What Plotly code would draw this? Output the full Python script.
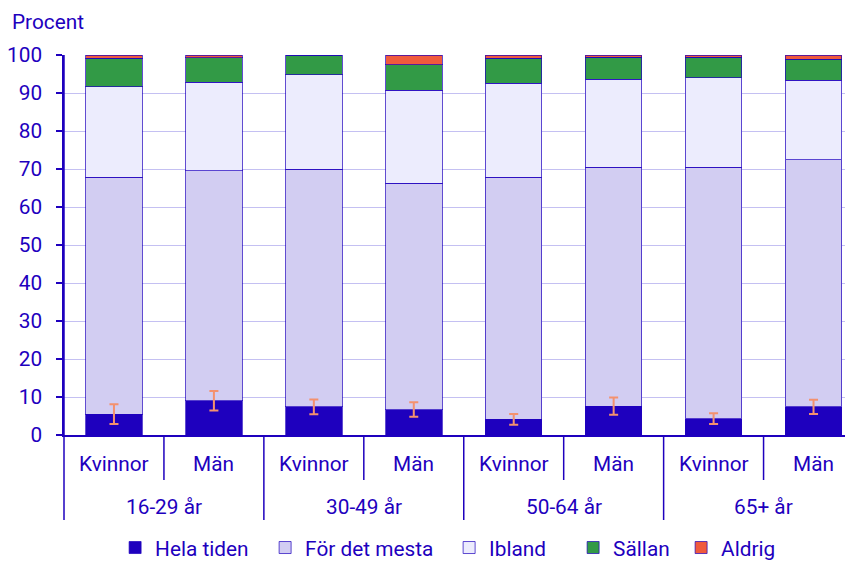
import plotly.graph_objects as go

# ---- data ----
sex_labels = ["Kvinnor", "Män", "Kvinnor", "Män", "Kvinnor", "Män", "Kvinnor", "Män"]
age_groups = ["16-29 år", "30-49 år", "50-64 år", "65+ år"]

hela_tiden = [5.5, 9.0, 7.4, 6.7, 4.1, 7.6, 4.3, 7.4]
hela_tiden_err = [2.6, 2.55, 1.95, 1.9, 1.4, 2.3, 1.4, 1.85]
for_det_mesta = [62.3, 60.5, 62.6, 59.5, 63.7, 62.8, 66.1, 65.1]
ibland = [23.9, 23.3, 24.8, 24.5, 24.8, 23.2, 23.6, 20.8]
sallan = [7.4, 6.5, 5.2, 6.7, 6.5, 5.8, 5.4, 5.6]
aldrig = [0.9, 0.7, 0.0, 2.6, 0.9, 0.6, 0.6, 1.1]

series_names = ["Hela tiden", "För det mesta", "Ibland", "Sällan", "Aldrig"]
series_values = [hela_tiden, for_det_mesta, ibland, sallan, aldrig]
series_colors = ["#1e00be", "#d2cdf2", "#ececfd", "#329a46", "#f05a3c"]
legend_widths = [105, 139, 79, 63, 60]

y_ticks = [0, 10, 20, 30, 40, 50, 60, 70, 80, 90, 100]

# ---- style ----
TXT = "#1e00be"
FONT = "Roboto"
FS = 20.8

x = list(range(len(sex_labels)))
fig = go.Figure()
for name, vals, col, lw in zip(series_names, series_values, series_colors, legend_widths):
    fig.add_trace(go.Bar(
        x=x, y=vals, name=name, width=0.565, legendwidth=lw,
        marker=dict(color=col, line=dict(color="rgba(30,0,190,0.7)", width=1)),
        hoverinfo="y+name"))

# error bars for "Hela tiden", drawn on top of the stack
fig.add_trace(go.Scatter(
    x=x, y=hela_tiden, mode="markers", showlegend=False,
    marker=dict(size=1, opacity=0),
    error_y=dict(type="data", array=hela_tiden_err, visible=True,
                 color="#f4916e", thickness=2, width=4.5),
    hoverinfo="skip"))

PLOT_H = 380

annotations = []
for i, lab in enumerate(sex_labels):
    annotations.append(dict(x=i, y=0, xref="x", yref="paper", text=lab,
                            showarrow=False, yanchor="middle", yshift=-29,
                            font=dict(family=FONT, size=FS, color=TXT)))
for g, lab in enumerate(age_groups):
    annotations.append(dict(x=2 * g + 0.5, y=0, xref="x", yref="paper", text=lab,
                            showarrow=False, yanchor="middle", yshift=-72,
                            font=dict(family=FONT, size=FS, color=TXT)))
annotations.append(dict(x=0, y=1, xref="paper", yref="paper", text="Procent",
                        showarrow=False, xanchor="left", yanchor="middle",
                        xshift=-54, yshift=33,
                        font=dict(family=FONT, size=FS, color=TXT)))

shapes = []
for i in range(len(sex_labels) - 1):
    outer = (i % 2 == 1)
    depth = 85 if outer else 45
    shapes.append(dict(type="line", xref="x", yref="paper",
                       x0=i + 0.5, x1=i + 0.5, y0=0, y1=-depth / PLOT_H,
                       line=dict(color=TXT, width=1.5)))
shapes.append(dict(type="line", xref="paper", yref="paper",
                   x0=0, x1=0, y0=1, y1=-85 / PLOT_H,
                   line=dict(color=TXT, width=1.5)))

fig.update_layout(
    width=845, height=553,
    margin=dict(l=56, r=0, t=47, b=126, autoexpand=False),
    paper_bgcolor="white", plot_bgcolor="white",
    barmode="stack",
    font=dict(family=FONT, size=FS, color=TXT),
    showlegend=True,
    legend=dict(orientation="h", x=0.49, xanchor="center",
                y=-113 / PLOT_H, yanchor="middle",
                font=dict(family=FONT, size=FS, color=TXT),
                traceorder="normal"),
    xaxis=dict(range=[-0.5, 7.395], showticklabels=False, ticks="",
               showgrid=False, zeroline=False, showline=True,
               linecolor=TXT, linewidth=1.5, automargin=False),
    yaxis=dict(range=[0, 100], tickvals=y_ticks, ticks="outside", ticklen=6,
               tickcolor=TXT, tickwidth=1.5, showline=True, linecolor=TXT,
               linewidth=1.5, showgrid=True, gridcolor="#c4c0f2", gridwidth=1,
               zeroline=False, ticklabelstandoff=10, automargin=False,
               tickfont=dict(family=FONT, size=FS, color=TXT)),
    annotations=annotations,
    shapes=shapes,
)

fig.write_html("out.html")
